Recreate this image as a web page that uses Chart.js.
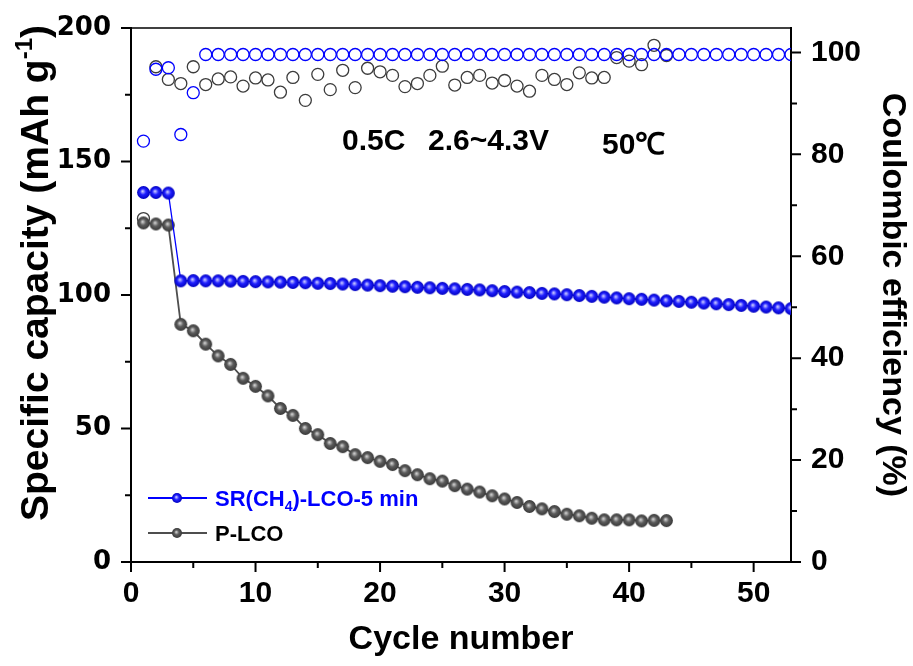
<!DOCTYPE html>
<html lang="en">
<head>
    <meta charset="UTF-8">
    <title>Cycling performance</title>
    <style>
        body {
            margin: 0;
            background-color: #ffffff;
        }
        #chartBox {
            width: 913px;
            height: 666px;
        }
    </style>
    <script src="https://cdn.jsdelivr.net/npm/chart.js"></script>
</head>
<body>
    <div id="chartBox">
        <canvas id="cycleChart" width="913" height="666"></canvas>
    </div>

    <script>
        // cycle numbers
        const cycles = [1, 2, 3, 4, 5, 6, 7, 8, 9, 10, 11, 12, 13, 14, 15, 16, 17, 18, 19, 20,
            21, 22, 23, 24, 25, 26, 27, 28, 29, 30, 31, 32, 33, 34, 35, 36, 37, 38, 39, 40,
            41, 42, 43, 44, 45, 46, 47, 48, 49, 50, 51, 52, 53];

        // specific capacity (mAh/g), left axis
        const srCapacity = [138.4, 138.4, 138.2, 105.3, 105.4, 105.3, 105.3, 105.2, 105.1, 105.0,
            104.9, 104.8, 104.7, 104.6, 104.4, 104.3, 104.1, 103.9, 103.7, 103.5,
            103.3, 103.1, 102.9, 102.7, 102.5, 102.3, 102.1, 101.9, 101.6, 101.3,
            101.1, 100.9, 100.6, 100.4, 100.1, 99.8, 99.5, 99.2, 98.9, 98.6,
            98.4, 98.1, 97.8, 97.6, 97.3, 97.0, 96.7, 96.4, 96.1, 95.8,
            95.5, 95.2, 94.9];
        const pCapacity = [127.0, 126.6, 126.2, 89.0, 86.6, 81.6, 77.2, 74.0, 68.8, 65.8,
            62.2, 57.5, 54.9, 50.0, 47.7, 44.4, 43.2, 40.2, 39.1, 37.7,
            36.5, 34.2, 32.7, 31.2, 30.3, 28.6, 27.3, 26.2, 24.8, 23.6,
            22.3, 20.8, 19.9, 18.9, 17.9, 17.3, 16.4, 15.8, 15.8, 15.8,
            15.4, 15.6, 15.5];

        // coulombic efficiency (%), right axis
        const srEfficiency = [82.6, 96.7, 97.0, 83.9, 92.1, 99.6, 99.6, 99.6, 99.6, 99.6,
            99.6, 99.6, 99.6, 99.6, 99.6, 99.6, 99.6, 99.6, 99.6, 99.6,
            99.6, 99.6, 99.6, 99.6, 99.6, 99.6, 99.6, 99.6, 99.6, 99.6,
            99.6, 99.6, 99.6, 99.6, 99.6, 99.6, 99.6, 99.6, 99.6, 99.6,
            99.6, 99.6, 99.6, 99.6, 99.6, 99.6, 99.6, 99.6, 99.6, 99.6,
            99.6, 99.6, 99.6];
        const pEfficiency = [67.4, 97.2, 94.7, 93.9, 97.2, 93.7, 94.8, 95.2, 93.4, 95.0,
            94.6, 92.2, 95.1, 90.6, 95.7, 92.7, 96.5, 93.1, 96.9, 96.2,
            95.5, 93.3, 93.9, 95.5, 97.3, 93.6, 95.1, 95.5, 94.0, 94.5,
            93.4, 92.4, 95.5, 94.7, 93.7, 96.0, 95.0, 95.1, 99.0, 98.3,
            97.6, 101.4, 99.4];

        // tick positions (all) and the ones that carry a label
        const xTickValues = [0, 5, 10, 15, 20, 25, 30, 35, 40, 45, 50];
        const xTicks = [0, 10, 20, 30, 40, 50];
        const leftTickValues = [0, 25, 50, 75, 100, 125, 150, 175, 200];
        const leftTicks = [0, 50, 100, 150, 200];
        const rightTickValues = [0, 10, 20, 30, 40, 50, 60, 70, 80, 90, 100];
        const rightTicks = [0, 20, 40, 60, 80, 100];

        const BLUE = '#0000ff';
        const GREY = '#4e4e4e';

        function toPoints(ys) {
            return ys.map((y, i) => ({ x: cycles[i], y: y }));
        }

        // shaded sphere marker like the one Origin uses
        function makeBall(r, light, mid, dark) {
            const c = document.createElement('canvas');
            const s = Math.ceil(r * 2 + 2);
            c.width = s;
            c.height = s;
            const g = c.getContext('2d');
            const cx = s / 2;
            const grad = g.createRadialGradient(cx - r * 0.15, cx - r * 0.2, r * 0.05, cx, cx, r);
            grad.addColorStop(0, light);
            grad.addColorStop(0.45, mid);
            grad.addColorStop(1, dark);
            g.fillStyle = grad;
            g.beginPath();
            g.arc(cx, cx, r, 0, Math.PI * 2);
            g.fill();
            return c;
        }

        const blueBall = makeBall(6.4, '#c8c8ff', '#2020ff', '#0000c0');
        const greyBall = makeBall(6.4, '#d0d0d0', '#5c5c5c', '#383838');
        const blueBallSmall = makeBall(5, '#c8c8ff', '#2020ff', '#0000c0');
        const greyBallSmall = makeBall(5, '#d0d0d0', '#5c5c5c', '#383838');

        const decorations = {
            id: 'decorations',
            afterDraw(chart) {
                const ctx = chart.ctx;
                const area = chart.chartArea;
                const sx = chart.scales.x, sy = chart.scales.y, sy1 = chart.scales.y1;
                ctx.save();

                // top frame line
                ctx.strokeStyle = '#000';
                ctx.lineWidth = 1.5;
                ctx.beginPath();
                ctx.moveTo(area.left, area.top);
                ctx.lineTo(area.right, area.top);
                ctx.stroke();

                // tick marks, major and minor, pointing outward
                ctx.lineWidth = 2;
                ctx.beginPath();
                leftTickValues.forEach(v => {
                    const p = sy.getPixelForValue(v);
                    const len = leftTicks.includes(v) ? 10 : 6;
                    ctx.moveTo(area.left - len, p);
                    ctx.lineTo(area.left, p);
                });
                rightTickValues.forEach(v => {
                    const p = sy1.getPixelForValue(v);
                    const len = rightTicks.includes(v) ? 10 : 6;
                    ctx.moveTo(area.right, p);
                    ctx.lineTo(area.right + len, p);
                });
                xTickValues.forEach(v => {
                    const p = sx.getPixelForValue(v);
                    const len = xTicks.includes(v) ? 10 : 6;
                    ctx.moveTo(p, area.bottom);
                    ctx.lineTo(p, area.bottom + len);
                });
                ctx.stroke();

                // left axis title with superscript
                ctx.save();
                ctx.translate(37, 273);
                ctx.rotate(-Math.PI / 2);
                ctx.fillStyle = '#000';
                ctx.textBaseline = 'middle';
                ctx.textAlign = 'left';
                const mainFont = 'bold 39px "Liberation Sans", Arial, sans-serif';
                const supFont = 'bold 24px "Liberation Sans", Arial, sans-serif';
                const t1 = 'Specific capacity (mAh g', t2 = '-1', t3 = ')';
                ctx.font = mainFont;
                const w1 = ctx.measureText(t1).width, w3 = ctx.measureText(t3).width;
                ctx.font = supFont;
                const w2 = ctx.measureText(t2).width;
                let x0 = -(w1 + w2 + w3) / 2;
                ctx.font = mainFont;
                ctx.fillText(t1, x0, 0);
                ctx.font = supFont;
                ctx.fillText(t2, x0 + w1, -12);
                ctx.font = mainFont;
                ctx.fillText(t3, x0 + w1 + w2, 0);
                ctx.restore();

                // test conditions
                ctx.fillStyle = '#000';
                ctx.textBaseline = 'alphabetic';
                ctx.textAlign = 'left';
                ctx.font = 'bold 30px "Liberation Sans", Arial, sans-serif';
                ctx.fillText('0.5C', 342, 150);
                ctx.fillText('2.6~4.3V', 428, 150);
                ctx.fillText('50\u2103', 602, 154);

                // legend
                const legendRows = [
                    { y: 498, color: BLUE, ball: blueBallSmall },
                    { y: 533, color: GREY, ball: greyBallSmall }
                ];
                legendRows.forEach(row => {
                    ctx.strokeStyle = row.color;
                    ctx.lineWidth = 2;
                    ctx.beginPath();
                    ctx.moveTo(148, row.y);
                    ctx.lineTo(207, row.y);
                    ctx.stroke();
                    ctx.drawImage(row.ball, 177 - row.ball.width / 2, row.y - row.ball.height / 2);
                });
                const lf = 'bold 22px "Liberation Sans", Arial, sans-serif';
                const sf = 'bold 14px "Liberation Sans", Arial, sans-serif';
                ctx.fillStyle = BLUE;
                let lx = 215;
                ctx.font = lf;
                ctx.fillText('SR(CH', lx, 506);
                lx += ctx.measureText('SR(CH').width;
                ctx.font = sf;
                ctx.fillText('4', lx, 511);
                lx += ctx.measureText('4').width;
                ctx.font = lf;
                ctx.fillText(')-LCO-5 min', lx, 506);
                ctx.fillStyle = '#000';
                ctx.fillText('P-LCO', 215, 541);

                ctx.restore();
            }
        };

        const ctx = document.getElementById('cycleChart').getContext('2d');
        Chart.defaults.font.family = '"Liberation Sans", Arial, sans-serif';
        Chart.defaults.color = '#000';

        new Chart(ctx, {
            type: 'line',
            data: {
                datasets: [
                    {
                        label: 'SR(CH4)-LCO-5 min',
                        data: toPoints(srCapacity),
                        yAxisID: 'y',
                        borderColor: BLUE,
                        borderWidth: 1.3,
                        pointStyle: blueBall,
                        pointRadius: 6,
                        tension: 0
                    },
                    {
                        label: 'P-LCO',
                        data: toPoints(pCapacity),
                        yAxisID: 'y',
                        borderColor: GREY,
                        borderWidth: 1.8,
                        pointStyle: greyBall,
                        pointRadius: 6,
                        tension: 0
                    },
                    {
                        label: 'SR CE',
                        data: toPoints(srEfficiency),
                        yAxisID: 'y1',
                        showLine: false,
                        pointStyle: 'circle',
                        pointRadius: 6,
                        pointBorderWidth: 1.3,
                        pointBorderColor: BLUE,
                        pointBackgroundColor: 'rgba(0,0,0,0)'
                    },
                    {
                        label: 'P CE',
                        data: toPoints(pEfficiency),
                        yAxisID: 'y1',
                        showLine: false,
                        pointStyle: 'circle',
                        pointRadius: 6,
                        pointBorderWidth: 1.3,
                        pointBorderColor: '#3c3c3c',
                        pointBackgroundColor: 'rgba(0,0,0,0)'
                    }
                ]
            },
            options: {
                responsive: false,
                animation: false,
                devicePixelRatio: 1,
                layout: { padding: { top: 28, left: 0, right: 0, bottom: 0 } },
                plugins: {
                    legend: { display: false },
                    tooltip: { enabled: false }
                },
                scales: {
                    x: {
                        type: 'linear',
                        min: 0,
                        max: 53,
                        afterFit: s => { s.height = 104; },
                        afterBuildTicks: s => { s.ticks = xTickValues.map(v => ({ value: v })); },
                        ticks: {
                            autoSkip: false,
                            maxRotation: 0,
                            padding: 4,
                            font: { size: 30, weight: 'bold' },
                            callback: v => xTicks.includes(v) ? String(v) : ''
                        },
                        grid: { drawOnChartArea: false, tickLength: 10, tickColor: 'rgba(0,0,0,0)' },
                        border: { display: true, color: '#000', width: 2 },
                        title: {
                            display: true,
                            text: 'Cycle number',
                            font: { size: 34, weight: 'bold' },
                            padding: { top: 0, bottom: 6 }
                        }
                    },
                    y: {
                        position: 'left',
                        min: 0,
                        max: 200,
                        afterFit: s => { s.width = 131; },
                        afterBuildTicks: s => { s.ticks = leftTickValues.map(v => ({ value: v })); },
                        ticks: {
                            autoSkip: false,
                            padding: 10,
                            font: { family: '"DejaVu Sans", sans-serif', size: 26, weight: 'bold' },
                            callback: v => leftTicks.includes(v) ? String(v) : ''
                        },
                        grid: { drawOnChartArea: false, tickLength: 10, tickColor: 'rgba(0,0,0,0)' },
                        border: { display: true, color: '#000', width: 2 }
                    },
                    y1: {
                        position: 'right',
                        min: 0,
                        max: 104.8,
                        afterFit: s => { s.width = 122; },
                        afterBuildTicks: s => { s.ticks = rightTickValues.map(v => ({ value: v })); },
                        ticks: {
                            autoSkip: false,
                            padding: 10,
                            font: { size: 30, weight: 'bold' },
                            callback: v => rightTicks.includes(v) ? String(v) : ''
                        },
                        grid: { drawOnChartArea: false, tickLength: 10, tickColor: 'rgba(0,0,0,0)' },
                        border: { display: true, color: '#000', width: 2 },
                        title: {
                            display: true,
                            text: 'Coulombic efficiency (%)',
                            font: { size: 34, weight: 'bold' },
                            padding: { top: 0, bottom: 0 }
                        }
                    }
                }
            },
            plugins: [decorations]
        });
    </script>
</body>
</html>
